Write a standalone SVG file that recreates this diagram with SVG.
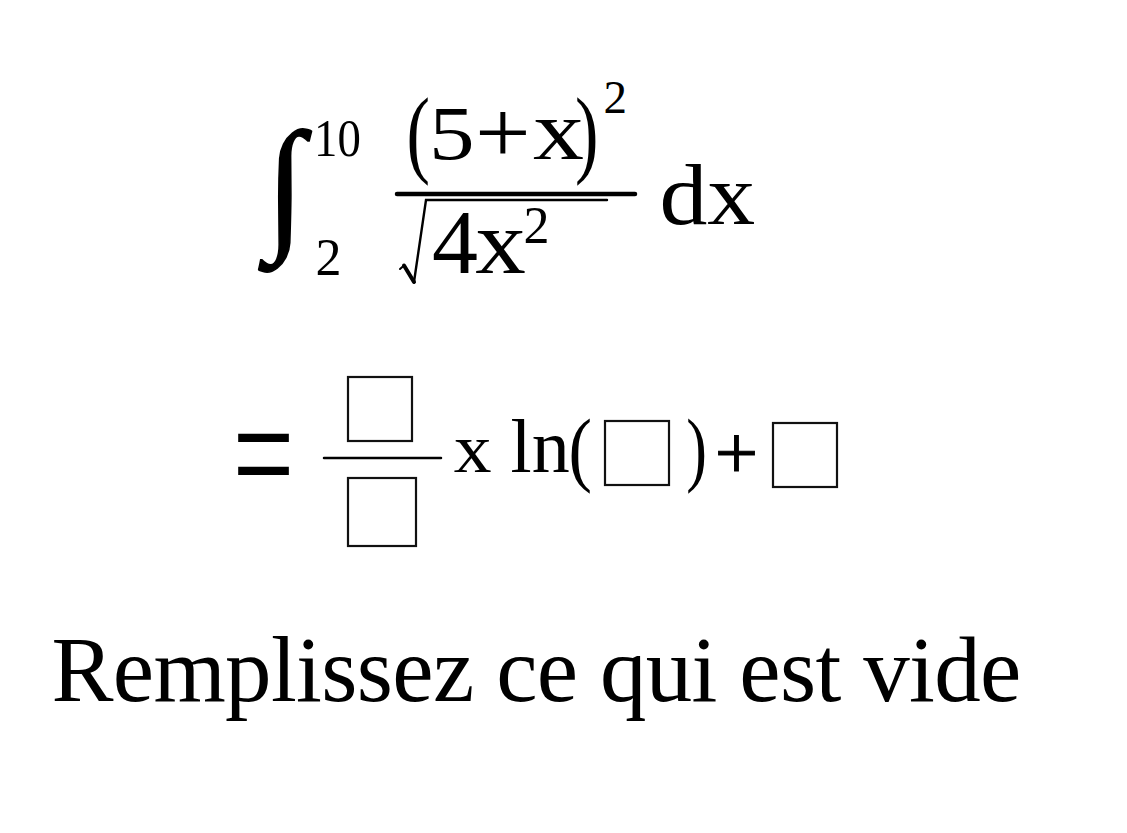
<svg xmlns="http://www.w3.org/2000/svg" width="1127" height="833" viewBox="0 0 1127 833">
<style>
.t{font-family:"Liberation Serif","Times New Roman",serif;fill:#000;}
.box{fill:none;stroke:#111;stroke-width:2.2;}
.bar{stroke:#000;stroke-linecap:round;fill:none;}
</style>
<rect x="0" y="0" width="1127" height="833" fill="#fff"/>
<g id="integral">
<text class="t" font-size="146" transform="matrix(0.96,0,0,1,266,233)" stroke="#000" stroke-width="1.6">∫</text>
<text class="t" font-size="52" transform="matrix(0.9,0,0,1,314,156)">10</text>
<text class="t" font-size="52" x="315.4" y="275">2</text>
</g>
<g id="numerator">
<text class="t" font-size="98" transform="matrix(0.72,0,0,1,406.6,164.7)">(</text>
<text class="t" font-size="76" transform="matrix(1.2,0,0,1,429,159)">5</text>
<text class="t" font-size="89" transform="matrix(1.11,0,0,1,475,162)">+</text>
<text class="t" font-size="85" transform="matrix(1.2,0,0,1,533,159)">x</text>
<text class="t" font-size="98" transform="matrix(0.72,0,0,1,575,164.7)">)</text>
<text class="t" font-size="47" x="603.6" y="113">2</text>
</g>
<line class="bar" x1="397" y1="194" x2="635" y2="194" stroke-width="4.5"/>
<g id="denominator">
<path class="bar" d="M400,269 L404,265.5" stroke-width="2"/>
<path class="bar" d="M404,265.5 L414,282" stroke-width="4"/>
<path class="bar" d="M414,282 L426,200 L607,200" stroke-width="2.4" stroke-linecap="butt"/>
<text class="t" font-size="92" x="432" y="273">4</text>
<text class="t" font-size="92" transform="matrix(1.1,0,0,1,475.3,273)">x</text>
<text class="t" font-size="52" x="523.5" y="243">2</text>
</g>
<g id="dx">
<text class="t" font-size="87" transform="matrix(1.1,0,0,1,659.4,224)">dx</text>
</g>
<g id="answer">
<text class="t" font-size="165" transform="matrix(0.66,0,0,1,232.7,508.7)">=</text>
<rect class="box" x="348" y="377" width="64" height="64"/>
<line class="bar" x1="324" y1="458" x2="441" y2="458" stroke-width="2.5" stroke-linecap="butt"/>
<rect class="box" x="348" y="478" width="68" height="68"/>
<text class="t" font-size="70" transform="matrix(1.08,0,0,1,453.8,472)">x</text>
<text class="t" font-size="76" x="510.6" y="472">ln</text>
<text class="t" font-size="83" transform="matrix(0.85,0,0,1,568.6,476.3)">(</text>
<rect class="box" x="605" y="421" width="64" height="64"/>
<text class="t" font-size="83" transform="matrix(0.75,0,0,1,686.2,476.3)">)</text>
<text class="t" font-size="77" x="714.7" y="478" stroke="#000" stroke-width="1">+</text>
<rect class="box" x="773" y="423" width="64" height="64"/>
</g>
<g id="instruction">
<text class="t" font-size="93" x="51.4" y="701" textLength="970" lengthAdjust="spacing">Remplissez ce qui est vide</text>
</g>
</svg>
